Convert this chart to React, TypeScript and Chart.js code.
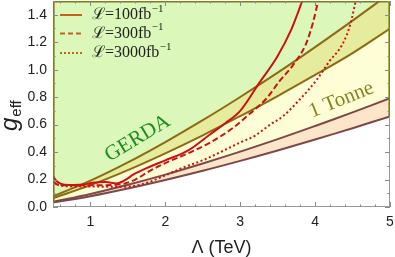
import { useEffect, useRef } from 'react';
import { Chart, registerables } from 'chart.js';

Chart.register(...registerables);

// ---- data ----
const bandLambda = [0.5, 1, 1.5, 2, 2.5, 3, 3.5, 4, 4.5, 5];
const gerdaUpper = [0.078, 0.192, 0.325, 0.473, 0.632, 0.801, 0.978, 1.164, 1.357, 1.556];
const gerdaLower = [0.064, 0.159, 0.269, 0.391, 0.522, 0.662, 0.808, 0.962, 1.121, 1.30];
const tonneUpper = [0.038, 0.095, 0.162, 0.236, 0.317, 0.403, 0.494, 0.590, 0.689, 0.792];
const tonneLower = [0.032, 0.079, 0.135, 0.197, 0.264, 0.336, 0.412, 0.492, 0.574, 0.66];

const lumi100Lambda = [0.5, 0.53, 0.6, 0.72, 0.9, 1.03, 1.2, 1.35, 1.46, 1.57, 1.8, 2.0, 2.3, 2.6, 2.8, 3.0, 3.25, 3.5, 3.68, 3.76, 3.84];
const lumi100G = [0.23, 0.20, 0.17, 0.16, 0.163, 0.177, 0.182, 0.172, 0.195, 0.235, 0.295, 0.34, 0.41, 0.53, 0.61, 0.70, 0.9, 1.1, 1.29, 1.4, 1.52];

const lumi300Lambda = [0.5, 0.55, 0.7, 1.0, 1.3, 1.45, 1.6, 1.8, 2.0, 2.3, 2.6, 2.9, 3.13, 3.35, 3.53, 3.7, 3.88, 3.97, 4.05];
const lumi300G = [0.19, 0.165, 0.158, 0.158, 0.16, 0.17, 0.2, 0.265, 0.32, 0.39, 0.47, 0.575, 0.68, 0.79, 0.92, 1.03, 1.19, 1.34, 1.52];

const lumi3000Lambda = [0.5, 0.6, 0.8, 1.0, 1.2, 1.45, 1.65, 1.8, 2.0, 2.25, 2.5, 2.7, 3.0, 3.2, 3.4, 3.57, 3.79, 4.02, 4.19, 4.37, 4.47, 4.55];
const lumi3000G = [0.18, 0.155, 0.15, 0.15, 0.148, 0.148, 0.16, 0.185, 0.23, 0.29, 0.34, 0.39, 0.47, 0.52, 0.6, 0.66, 0.78, 0.925, 1.06, 1.19, 1.33, 1.52];

const legendLabels = ['ℒ=100fb', 'ℒ=300fb', 'ℒ=3000fb'];
const xTickValues = [1, 2, 3, 4, 5];
const yTickValues = [0, 0.2, 0.4, 0.6, 0.8, 1.0, 1.2, 1.4];

const pts = (xs: number[], ys: number[]) => xs.map((x, i) => ({ x, y: ys[i] }));

const RED = '#cc1111';
const OLIVE = '#8c6a12';
const MAROON = '#7d4848';

const decor = {
  id: 'decor',
  afterDatasetsDraw(chart: any) {
    const { ctx, chartArea: a, scales } = chart;
    const xs = scales.x;
    const ys = scales.y;
    ctx.save();
    // frame
    ctx.strokeStyle = '#9a9a9a';
    ctx.lineWidth = 1;
    ctx.strokeRect(a.left + 0.5, a.top + 0.5, a.right - a.left - 1, a.bottom - a.top - 1);
    // olive border of filled region
    ctx.strokeStyle = '#7c7c1c';
    ctx.lineWidth = 1.6;
    ctx.beginPath();
    ctx.moveTo(a.left + 0.8, ys.getPixelForValue(tonneLower[0]));
    ctx.lineTo(a.left + 0.8, a.top + 0.8);
    ctx.lineTo(a.right - 0.8, a.top + 0.8);
    ctx.lineTo(a.right - 0.8, ys.getPixelForValue(tonneLower[tonneLower.length - 1]));
    ctx.stroke();

    // ticks
    ctx.strokeStyle = '#8a8a8a';
    ctx.lineWidth = 1;
    ctx.beginPath();
    for (let v = 0.6; v < 5.01; v += 0.2) {
      const major = Math.abs(v - Math.round(v)) < 1e-6;
      const len = major ? 5 : 2.5;
      const px = Math.round(xs.getPixelForValue(v)) + 0.5;
      ctx.moveTo(px, a.bottom);
      ctx.lineTo(px, a.bottom - len);
      ctx.moveTo(px, a.top);
      ctx.lineTo(px, a.top + len);
    }
    for (let k = 0; k <= 15; k++) {
      const v = k * 0.1;
      const major = k % 2 === 0;
      const len = major ? 5 : 2.5;
      const py = Math.round(ys.getPixelForValue(v)) + 0.5;
      ctx.moveTo(a.left, py);
      ctx.lineTo(a.left + len, py);
      ctx.moveTo(a.right, py);
      ctx.lineTo(a.right - len, py);
    }
    ctx.stroke();

    // tick labels
    ctx.fillStyle = '#222';
    ctx.font = '14px "Liberation Sans", Arial, sans-serif';
    ctx.textAlign = 'right';
    ctx.textBaseline = 'middle';
    yTickValues.forEach((v) => {
      ctx.fillText(v.toFixed(1), a.left - 6, ys.getPixelForValue(v));
    });
    ctx.textAlign = 'center';
    xTickValues.forEach((v) => {
      ctx.fillText(String(v), xs.getPixelForValue(v), a.bottom + 15);
    });

    // x title
    ctx.font = '18px "Liberation Sans", Arial, sans-serif';
    ctx.textBaseline = 'middle';
    ctx.fillText('Λ (TeV)', (a.left + a.right) / 2, 248);

    // y title
    ctx.save();
    ctx.translate(17, 131);
    ctx.rotate(-Math.PI / 2);
    ctx.textAlign = 'left';
    ctx.textBaseline = 'alphabetic';
    ctx.font = 'italic 24px "Liberation Sans", Arial, sans-serif';
    ctx.fillText('g', 0, 0);
    const gw = ctx.measureText('g').width;
    ctx.font = '15px "Liberation Sans", Arial, sans-serif';
    ctx.fillText('eff', gw + 1, 4);
    ctx.restore();

    // region labels
    const drawRot = (text: string, lx: number, gy: number, deg: number, color: string) => {
      ctx.save();
      ctx.translate(xs.getPixelForValue(lx), ys.getPixelForValue(gy));
      ctx.rotate((-deg * Math.PI) / 180);
      ctx.font = '21px "Liberation Serif", "Times New Roman", serif';
      ctx.fillStyle = color;
      ctx.textAlign = 'center';
      ctx.textBaseline = 'middle';
      ctx.fillText(text, 0, 0);
      ctx.restore();
    };
    drawRot('GERDA', 1.63, 0.5, 31, '#1e8c1e');
    drawRot('1 Tonne', 4.35, 0.78, 22, '#858520');

    // legend
    const dashes = [[], [5, 3], [2, 2]];
    const rows = [14, 32.5, 52];
    rows.forEach((dy, i) => {
      const y = a.top + dy;
      ctx.strokeStyle = '#c4621c';
      ctx.lineWidth = 2;
      ctx.setLineDash(dashes[i]);
      ctx.beginPath();
      ctx.moveTo(a.left + 7, y);
      ctx.lineTo(a.left + 29, y);
      ctx.stroke();
      ctx.setLineDash([]);
      ctx.fillStyle = '#222';
      ctx.textAlign = 'left';
      ctx.textBaseline = 'middle';
      ctx.font = '16px "Liberation Serif", "Times New Roman", serif';
      ctx.fillText(legendLabels[i], a.left + 39, y);
      const w = ctx.measureText(legendLabels[i]).width;
      ctx.font = '11px "Liberation Serif", "Times New Roman", serif';
      ctx.fillText('−1', a.left + 39 + w + 0.5, y - 6);
    });
    ctx.restore();
  },
};

export default function App() {
  const ref = useRef<HTMLCanvasElement>(null);
  useEffect(() => {
    document.body.style.margin = '0';
    const canvas = ref.current!;
    const lineBase = { pointRadius: 0, borderWidth: 2, tension: 0.4 };
    const chart = new Chart(canvas, {
      type: 'line',
      data: {
        datasets: [
          { ...lineBase, data: pts(bandLambda, gerdaUpper), borderColor: OLIVE, fill: 'end', backgroundColor: 'rgb(219,247,186)', order: 2 },
          { ...lineBase, data: pts(bandLambda, gerdaLower), borderColor: OLIVE, fill: 0, backgroundColor: 'rgb(229,236,158)', order: 2 },
          { ...lineBase, data: pts(bandLambda, tonneUpper), borderColor: MAROON, fill: 1, backgroundColor: 'rgb(254,254,214)', order: 2 },
          { ...lineBase, data: pts(bandLambda, tonneLower), borderColor: MAROON, fill: 2, backgroundColor: 'rgb(253,229,202)', order: 2 },
          { data: pts(lumi100Lambda, lumi100G), borderColor: RED, borderWidth: 2, pointRadius: 0, cubicInterpolationMode: 'monotone', fill: false, order: 0 },
          { data: pts(lumi300Lambda, lumi300G), borderColor: RED, borderWidth: 2, borderDash: [6, 3], pointRadius: 0, cubicInterpolationMode: 'monotone', fill: false, order: 0 },
          { data: pts(lumi3000Lambda, lumi3000G), borderColor: RED, borderWidth: 2, borderDash: [2, 2.5], pointRadius: 0, cubicInterpolationMode: 'monotone', fill: false, order: 0 },
        ],
      },
      options: {
        responsive: false,
        animation: false,
        devicePixelRatio: 1,
        layout: { padding: { left: 53, right: 5, top: 1, bottom: 50 } },
        scales: {
          x: { type: 'linear', min: 0.5, max: 5, display: false },
          y: { type: 'linear', min: 0, max: 1.5, display: false },
        },
        plugins: {
          legend: { display: false },
          tooltip: { enabled: false },
          filler: { drawTime: 'beforeDatasetsDraw' },
        },
      } as any,
      plugins: [decor],
    });
    return () => chart.destroy();
  }, []);
  return (
    <div style={{ position: 'absolute', left: 0, top: 0, width: 395, height: 257 }}>
      <canvas ref={ref} width={395} height={257} style={{ width: 395, height: 257 }} />
    </div>
  );
}
